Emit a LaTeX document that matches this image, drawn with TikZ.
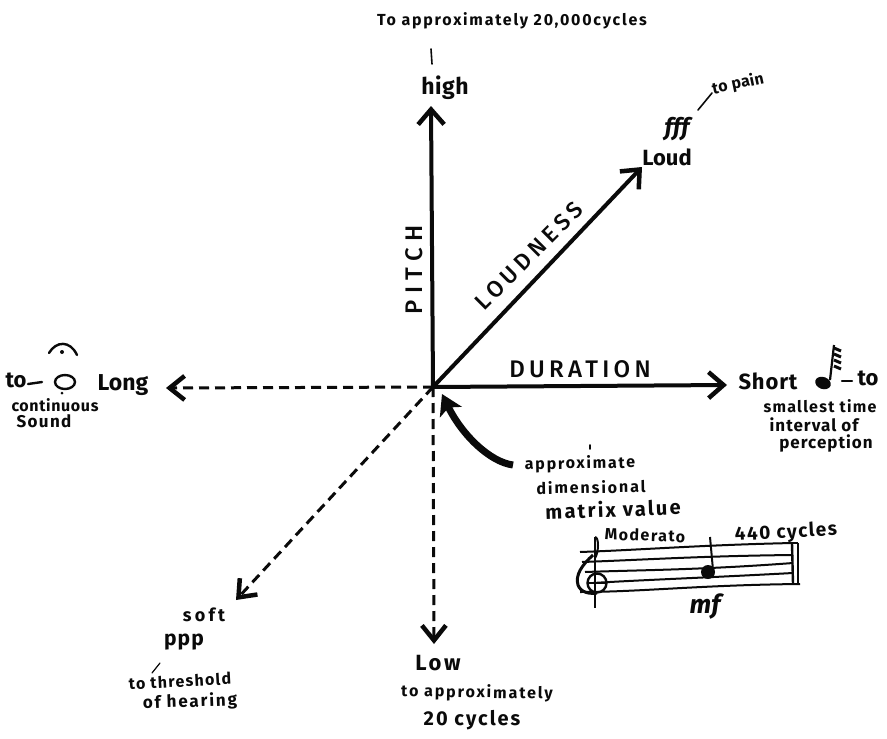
\documentclass[tikz,border=0pt]{standalone}
\usepackage{fontspec}
\setmainfont{Fira Sans}
\newfontfamily\capsfont{Fira Sans Medium}
\usetikzlibrary{arrows.meta}
\definecolor{ink}{HTML}{0A0A0A}
\tikzset{
  solidaxis/.style={ink,line width=4pt,-{Straight Barb[length=15pt,width=26pt,line width=4.5pt]}},
  dashaxis/.style={ink,line width=3pt,dash pattern=on 10pt off 6pt,-{Straight Barb[length=15pt,width=24pt,line width=4.5pt]}},
  tx/.style 2 args={ink,inner sep=0pt,font=\fontsize{#1}{#1}\selectfont\bfseries\addfontfeature{LetterSpace=#2}},
  capsname/.style 2 args={ink,inner sep=0pt,font=\capsfont\fontsize{#1}{#1}\selectfont\addfontfeature{LetterSpace=#2}},
  penline/.style={ink,line width=1.6pt,line cap=round},
  staffline/.style={ink,line width=2pt},
  x=1pt,y=-1pt
}
\begin{document}
\begin{tikzpicture}
\useasboundingbox[fill=white] (0,0) rectangle (887,739);
\coordinate (o) at (433,387);
\coordinate (pitchend) at (431,106);
\coordinate (loudend) at (642,167);
\coordinate (durend) at (727,385);
\coordinate (longend) at (166,388);
\coordinate (lowend) at (434,644);
\coordinate (softend) at (236,600);
\draw[solidaxis] (o) -- (pitchend);
\draw[solidaxis] (o) -- (loudend);
\draw[solidaxis] (o) -- (durend);
\draw[dashaxis] (o) -- (longend);
\draw[dashaxis] (o) -- (lowend);
\draw[dashaxis] (o) -- (softend);
% axis names
\node[capsname={24}{28},rotate=90] (pitchname) at (414,270) {PITCH};
\node[capsname={23}{20},rotate=45] (loudname) at (529,256) {LOUDNESS};
\node[capsname={24}{18}] (durname) at (580,369) {DURATION};
% top
\node[tx={16}{11}] (top) at (512,21) {To approximately 20,000cycles};
\draw[penline] (431,49) -- (432,64);
\node[tx={23}{2}] (high) at (445,88) {high};
% loud
\node[tx={22}{0}] (loud) at (667,157) {Loud};
\node[ink,inner sep=0pt,font=\itshape\bfseries\fontsize{24}{24}\selectfont] (fff) at (677,129) {fff};
\draw[penline] (698,110) -- (712,93);
\node[tx={16}{2},rotate=12] (pain) at (738,84) {to pain};
% short
\node[tx={22}{4}] (short) at (768,381) {Short};
\coordinate (nh) at (823,383);
\node[tx={22}{0}] (to) at (868,378) {to};
\draw[penline,line width=2.4pt] (842,381) -- (852,381);
\fill[ink,rotate around={-20:(nh)}] (nh) ellipse (8 and 6);
\draw[ink,line width=2.2pt] (830,380) -- (834,345);
\foreach \yy in {348,354,360,366} \draw[ink,line width=3pt] (834,\yy) -- (841,\yy+3);
\node[tx={16}{8}] (smallest) at (820,406) {smallest time};
\node[tx={17}{6}] (interval) at (814,425) {interval of};
\node[tx={17}{6}] (perception) at (826,443) {perception};
% long
\node[tx={22}{0}] (toL) at (16,380) {to};
\draw[penline,line width=2.4pt] (28,384) -- (42,382);
\draw[penline,line width=2.4pt] (65,382) ellipse (10 and 7);
\draw[penline,line width=2.4pt] (49,353) .. controls (56,341) and (70,340) .. (77,355);
\fill[ink] (62,352) circle (2);
\fill[ink] (62,393) circle (1.5);
\node[tx={23}{0}] (long) at (123,385) {Long};
\node[tx={16}{4}] (continuous) at (55,405) {continuous};
\node[tx={17}{8}] (sound) at (44,421) {Sound};
% curved arrow
\coordinate (mstart) at (513,465);
\coordinate (mend) at (442,394);
\draw[ink,line width=7pt,-{Stealth[length=20pt,width=24pt,inset=5pt]}] (mstart) .. controls (490,462) and (462,435) .. (mend);
\draw[penline] (590,445) -- (590,449);
\node[tx={16}{11},rotate=1] (approx) at (580,464) {approximate};
\node[tx={16}{12},rotate=1] (dimen) at (591,487) {dimensional};
\node[tx={20}{11},rotate=2] (matrix) at (613,509) {matrix value};
% staff
\draw[staffline] (580,552) .. controls (640,550) and (700,545) .. (793,543);
\draw[staffline] (582,562) .. controls (640,560) and (700,556) .. (793,555);
\draw[staffline] (585,572) .. controls (640,570) and (700,570) .. (793,563);
\draw[staffline] (593,583) .. controls (640,580) and (700,578) .. (793,573);
\draw[staffline] (580,592) .. controls (640,592) and (700,585) .. (800,584);
\draw[ink,line width=2.5pt] (595,537) -- (595,608);
\draw[ink,line width=2pt] (595,537) .. controls (599,537) and (599,552) .. (595,558);
\draw[ink,line width=3pt] (593,555) .. controls (582,565) and (575,575) .. (578,585) .. controls (581,593) and (590,594) .. (597,593);
\draw[ink,line width=2.4pt] (597,583) circle (9.5);
\draw[ink,line width=2pt] (588,583) -- (606,583);
\fill[ink] (708,572) circle (7);
\draw[ink,line width=2pt] (710,537) -- (713,570);
\draw[ink,line width=2.4pt] (792,543) -- (793,584);
\draw[ink,line width=2.6pt] (798,543) -- (798,584);
\draw[ink,line width=1.4pt] (792,543) -- (798,543);
\node[tx={16}{9},rotate=-2] (moderato) at (645,535) {Moderato};
\node[tx={19}{8},rotate=3] (cyc) at (786,533) {440 cycles};
\node[ink,inner sep=0pt,font=\itshape\bfseries\fontsize{26}{26}\selectfont] (mf) at (705,607) {mf};
% low
\node[tx={22}{12}] (low) at (438,663) {Low};
\node[tx={16}{12},rotate=-1] (toapp) at (477,693) {to approximately};
\node[tx={20}{10}] (twenty) at (472,720) {20 cycles};
% soft
\node[tx={18}{18}] (soft) at (204,615) {soft};
\node[tx={21}{5}] (ppp) at (184,642) {ppp};
\node[tx={16}{8},rotate=3] (thresh) at (180,681) {to threshold};
\node[tx={17}{11},rotate=2] (hearing) at (190,702) {of hearing};
\draw[penline,line width=1.2pt] (152,673) -- (160,663);
\end{tikzpicture}
\end{document}
